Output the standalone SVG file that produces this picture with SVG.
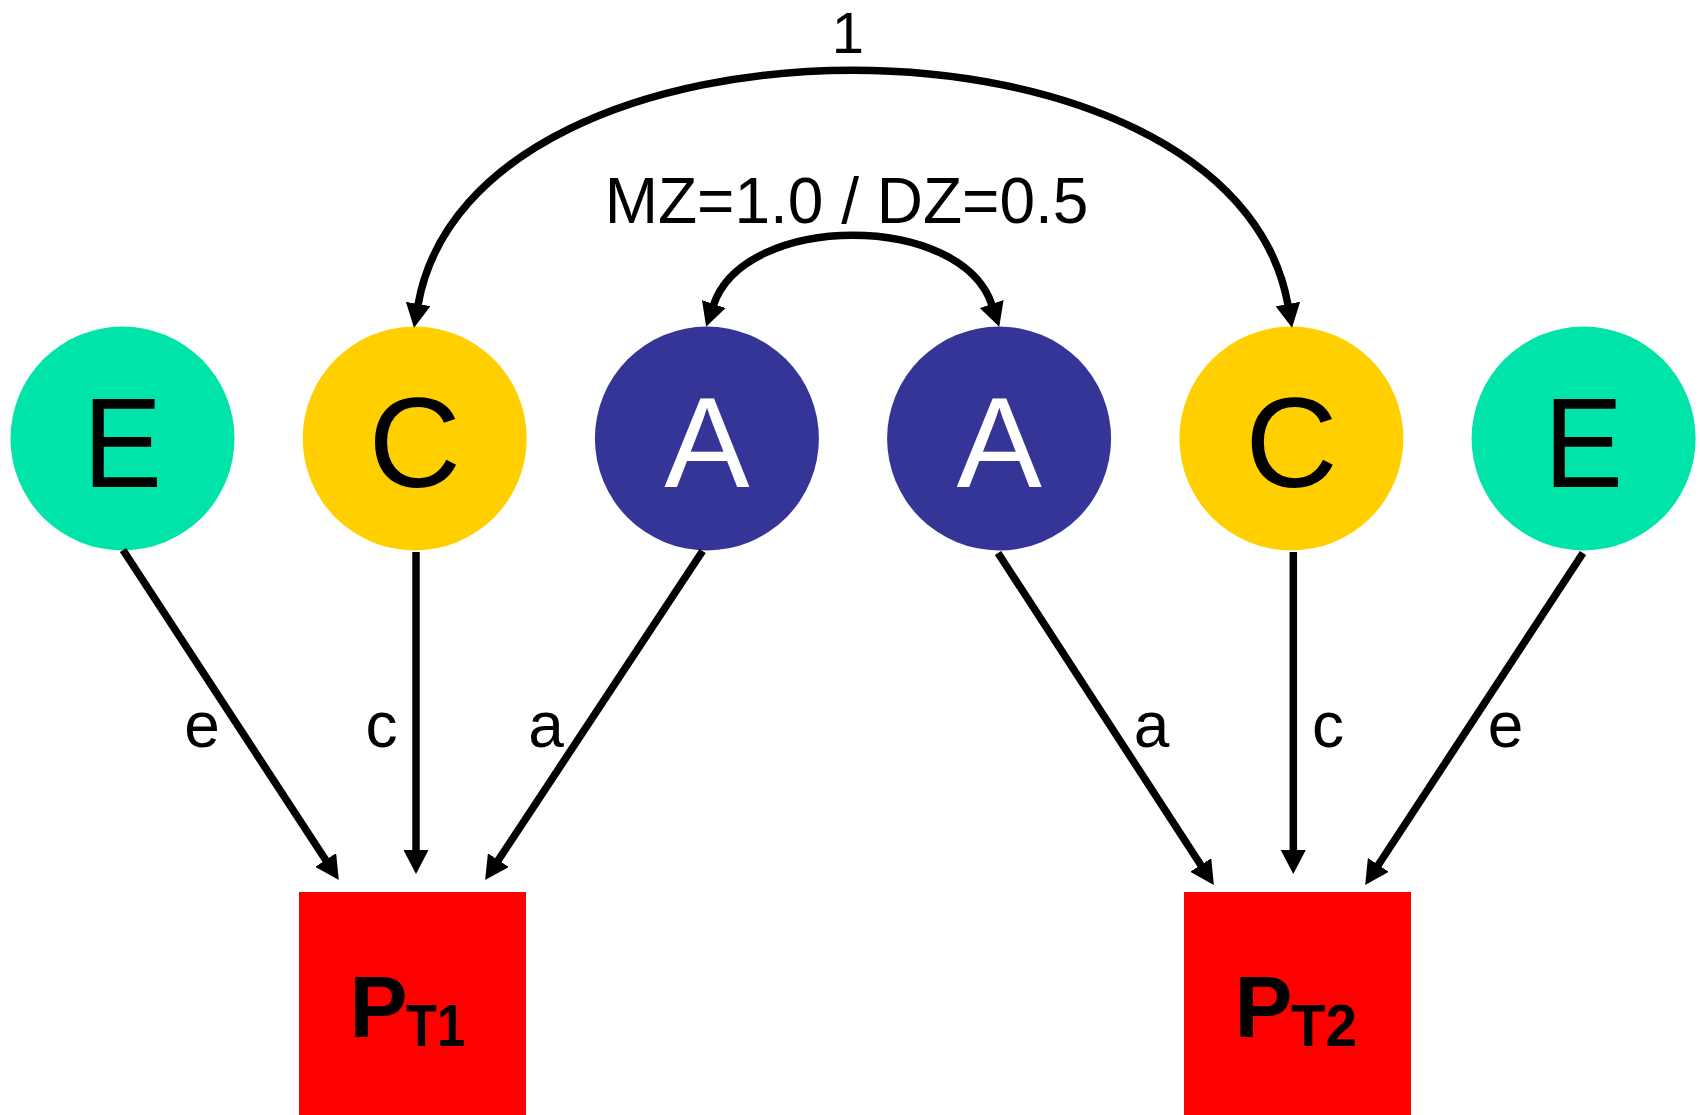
<svg xmlns="http://www.w3.org/2000/svg" width="1700" height="1115" viewBox="0 0 1700 1115">
  <style>
    .lbl { font-family: "Liberation Sans", Arial, sans-serif; fill: #000; }
    .node-letter { font-family: "Liberation Sans", Arial, sans-serif; font-size: 128px; text-anchor: middle; }
    .pheno { font-family: "Liberation Sans", Arial, sans-serif; font-weight: bold; fill: #000; }
    .env { fill: #00E3A9; }
    .common { fill: #FFCF00; }
    .add { fill: #353597; }
    .box { fill: #FF0000; }
    .edge { fill: none; stroke: #000; stroke-width: 7.5; stroke-linecap: butt; }
    .path-lbl { font-family: "Liberation Sans", Arial, sans-serif; font-size: 64px; text-anchor: middle; fill: #000; }
  </style>
  <defs>
    <marker id="arrow" viewBox="0 0 24 25" refX="1" refY="12.5" markerWidth="24" markerHeight="25" markerUnits="userSpaceOnUse" orient="auto-start-reverse">
      <path d="M0,0 L24,12.5 L0,25 z" fill="#000"/>
    </marker>
  </defs>

  <rect x="0" y="0" width="1700" height="1115" fill="#fff"/>

  <!-- latent factors, twin 1 -->
  <g id="E1">
    <circle class="env" cx="122.5" cy="438.5" r="112"/>
    <text class="node-letter" x="122.5" y="487" fill="#000" textLength="79" lengthAdjust="spacingAndGlyphs">E</text>
  </g>
  <g id="C1">
    <circle class="common" cx="414.7" cy="438.5" r="112"/>
    <text class="node-letter" x="414.7" y="487" fill="#000">C</text>
  </g>
  <g id="A1">
    <circle class="add" cx="706.9" cy="438.5" r="112"/>
    <text class="node-letter" x="706.9" y="487" fill="#fff">A</text>
  </g>

  <!-- latent factors, twin 2 -->
  <g id="A2">
    <circle class="add" cx="999.1" cy="438.5" r="112"/>
    <text class="node-letter" x="999.1" y="487" fill="#fff">A</text>
  </g>
  <g id="C2">
    <circle class="common" cx="1291.4" cy="438.5" r="112"/>
    <text class="node-letter" x="1291.4" y="487" fill="#000">C</text>
  </g>
  <g id="E2">
    <circle class="env" cx="1583.6" cy="438.5" r="112"/>
    <text class="node-letter" x="1583.6" y="487" fill="#000" textLength="79" lengthAdjust="spacingAndGlyphs">E</text>
  </g>

  <!-- observed phenotypes -->
  <g id="PT1">
    <rect class="box" x="299" y="892" width="227" height="223"/>
    <text class="pheno" x="349.5" y="1037" font-size="87">P<tspan x="406" y="1046" font-size="59" textLength="59" lengthAdjust="spacingAndGlyphs">T1</tspan></text>
  </g>
  <g id="PT2">
    <rect class="box" x="1184" y="892" width="227" height="223"/>
    <text class="pheno" x="1234.5" y="1037" font-size="87">P<tspan x="1291" y="1046" font-size="59" textLength="66" lengthAdjust="spacingAndGlyphs">T2</tspan></text>
  </g>

  <!-- connectors -->
  <g id="connectors">
    <!-- correlation between common environments -->
    <path class="edge" d="M418,305 C473,-8 1232,-8 1288,305" marker-start="url(#arrow)" marker-end="url(#arrow)"/>
    <!-- correlation between additive genetic factors -->
    <path class="edge" d="M713.5,305 C745,212 961,212 992,305" marker-start="url(#arrow)" marker-end="url(#arrow)"/>

    <!-- paths into twin 1 -->
    <path class="edge" d="M123,550 L326.2,860.8" marker-end="url(#arrow)"/>
    <path class="edge" d="M416,552 L416,851" marker-end="url(#arrow)"/>
    <path class="edge" d="M702.6,551 L497.8,860.9" marker-end="url(#arrow)"/>

    <!-- paths into twin 2 -->
    <path class="edge" d="M998,553 L1201.3,865.8" marker-end="url(#arrow)"/>
    <path class="edge" d="M1293.3,552 L1293.3,851" marker-end="url(#arrow)"/>
    <path class="edge" d="M1583,553 L1377.8,865.8" marker-end="url(#arrow)"/>

    <!-- connector labels -->
    <text class="lbl" x="848" y="53" font-size="58" text-anchor="middle">1</text>
    <text class="lbl" x="846.5" y="222.7" font-size="64" text-anchor="middle">MZ=1.0 / DZ=0.5</text>
    <text class="path-lbl" x="202" y="746.5">e</text>
    <text class="path-lbl" x="381.5" y="746.5">c</text>
    <text class="path-lbl" x="546" y="746.5">a</text>
    <text class="path-lbl" x="1151.5" y="746.5">a</text>
    <text class="path-lbl" x="1328" y="746.5">c</text>
    <text class="path-lbl" x="1505.5" y="746.5">e</text>
  </g>
</svg>
